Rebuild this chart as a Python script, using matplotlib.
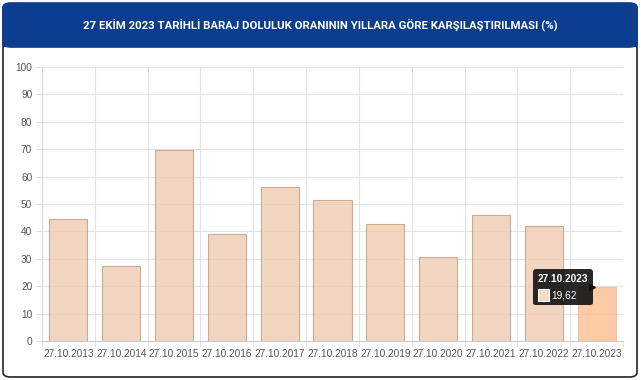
import numpy as np
import matplotlib.pyplot as plt
from matplotlib.patches import FancyBboxPatch, Rectangle
from matplotlib.offsetbox import TextArea, DrawingArea, HPacker, VPacker, AnnotationBbox
from matplotlib.transforms import offset_copy

# data
dates = ["27.10.2013", "27.10.2014", "27.10.2015", "27.10.2016", "27.10.2017", "27.10.2018",
         "27.10.2019", "27.10.2020", "27.10.2021", "27.10.2022", "27.10.2023"]
values = [44.7, 27.3, 69.6, 38.9, 56.1, 51.4, 42.6, 30.6, 45.9, 41.9, 19.62]
yticks = [0, 10, 20, 30, 40, 50, 60, 70, 80, 90, 100]
title = "27 EKİM 2023 TARİHLİ BARAJ DOLULUK ORANININ YILLARA GÖRE KARŞILAŞTIRILMASI (%)"

plt.rcParams["font.family"] = ["Liberation Sans", "DejaVu Sans"]

W, H = 641, 380
fig = plt.figure(figsize=(W / 100, H / 100), dpi=100)

# card + header
card = FancyBboxPatch((3 / W, 3 / H), 634 / W, 373 / H, boxstyle="round,pad=0,rounding_size=0.012",
                      transform=fig.transFigure, fc="white", ec="#222222", lw=1.2, zorder=-3)
fig.patches.append(card)
hdr = FancyBboxPatch((3 / W, 333 / H), 634 / W, 44 / H, boxstyle="round,pad=0,rounding_size=0.012",
                     transform=fig.transFigure, fc="#0d3d8e", ec="#0d3d8e", lw=1.2, zorder=-2)
fig.patches.append(hdr)
fig.patches.append(Rectangle((3 / W, 333 / H), 634 / W, 20 / H, transform=fig.transFigure,
                             fc="#0d3d8e", ec="none", zorder=-2))
fig.text(0.5, 1 - 25 / H, title, color="white", fontsize=8.2, fontweight="bold",
         family="Roboto", ha="center", va="center")

ax = fig.add_axes([42 / W, 1 - 341 / H, 581 / W, 274 / H])
ax.set_zorder(2)
ax.patch.set_visible(False)
ax.set_axisbelow(True)
x = np.arange(len(dates))
colors = ["#efcbb2"] * (len(dates) - 1) + ["#fdbf8f"]
edges = ["#c49a7c"] * (len(dates) - 1) + ["#f3b98d"]
ax.bar(x, values, width=0.72, color=colors, edgecolor=edges, linewidth=0.8, alpha=0.8, zorder=2)

ax.set_xlim(-0.5, len(dates) - 0.5)
ax.set_ylim(0, 100)
ax.set_yticks(yticks)
ax.set_xticks(x)
ax.set_xticklabels(dates)
ax.set_xticks(np.arange(-0.5, len(dates)), minor=True)
ax.tick_params(axis="x", which="major", length=0, labelsize=7.3, colors="#555555", pad=6)
ax.tick_params(axis="x", which="minor", length=4, color="#dddddd")
ax.tick_params(axis="y", length=4, color="#dddddd", labelsize=7.3, labelcolor="#555555", pad=3)
ax.grid(axis="y", color="#e3e3e3", lw=0.8)
ax.grid(axis="x", which="minor", color="#e3e3e3", lw=0.8)
for s in ["top", "right"]:
    ax.spines[s].set_visible(False)
ax.spines["left"].set_color("#dddddd")
ax.spines["bottom"].set_color("#cccccc")

# tooltip on last bar
last = len(dates) - 1
t1 = TextArea(dates[last], textprops=dict(color="white", fontsize=7.3, fontweight="bold"))
da = DrawingArea(8, 8, 0, 0)
da.add_artist(Rectangle((0, 0), 8, 8, fc="#f6dcc7", ec="white", lw=0.8))
t2 = TextArea(f"{values[last]:.2f}".replace(".", ","), textprops=dict(color="white", fontsize=7.3))
row = HPacker(children=[da, t2], align="center", pad=0, sep=2)
box = VPacker(children=[t1, row], align="left", pad=0, sep=4)
ab = AnnotationBbox(box, (last, values[last]), xybox=(-6, 0), xycoords="data",
                    boxcoords="offset points", box_alignment=(1, 0.5), frameon=True,
                    bboxprops=dict(boxstyle="round,pad=0.35,rounding_size=0.2", fc="#111111",
                                   ec="none", alpha=0.9), zorder=10)
ax.add_artist(ab)
trans = offset_copy(ax.transData, fig=fig, x=-3, y=0, units="points")
ax.plot(last, values[last], marker=">", ms=5, color="#111111", alpha=0.9, transform=trans,
        zorder=10, clip_on=False)

fig.savefig("out.png", dpi=100)
